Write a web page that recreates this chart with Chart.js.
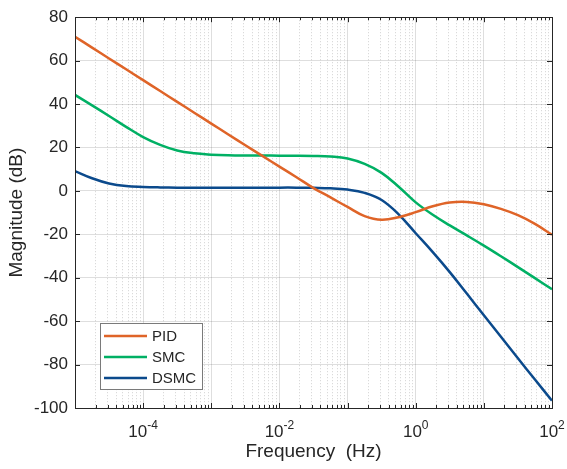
<!DOCTYPE html>
<html>
<head>
<meta charset="utf-8">
<script src="https://cdn.jsdelivr.net/npm/chart.js@4.4.0/dist/chart.umd.min.js"></script>
<style>
  html, body { margin: 0; padding: 0; background: #fff; }
  #wrap { width: 567px; height: 469px; }
</style>
</head>
<body>
<div id="wrap"><canvas id="bode" width="567" height="469"></canvas></div>
<script>
// frequency points (Hz), quarter-decade spacing
const freqHz = [1e-5, 1.78e-5, 3.16e-5, 5.62e-5, 1e-4, 1.78e-4, 3.16e-4, 5.62e-4,
  1e-3, 1.78e-3, 3.16e-3, 5.62e-3, 1e-2, 1.78e-2, 3.16e-2, 5.62e-2,
  0.1, 0.178, 0.316, 0.562, 1, 1.78, 3.16, 5.62, 10, 17.8, 31.6, 56.2, 100];

// magnitude (dB)
const pidDb = [71, 66, 61, 56, 51, 46, 41, 36, 31, 26, 21, 16.1, 11.2, 6.3, 1.3, -3.0,
  -7.4, -11.6, -13.3, -12.1, -9.8, -7.1, -5.4, -5.1, -6.2, -8.3, -11.2, -15.2, -20.2];
const smcDb = [44.2, 39.4, 34.5, 29.5, 24.8, 21.2, 18.6, 17.3, 16.7, 16.4, 16.3, 16.3, 16.2, 16.2, 16.1, 15.8,
  14.9, 12.4, 8.3, 1.9, -5.3, -11.0, -15.9, -20.5, -25.2, -30.1, -35.1, -40.2, -45.3];
const dsmcDb = [9.1, 5.8, 3.4, 2.2, 1.8, 1.6, 1.5, 1.5, 1.5, 1.5, 1.5, 1.5, 1.5, 1.5, 1.4, 1.2,
  0.6, -0.9, -4.2, -10.8, -19.5, -28.2, -37.4, -47.3, -57.3, -67.2, -77.1, -86.9, -96.6];

const seriesNames = ['PID', 'SMC', 'DSMC'];
const seriesColors = ['#DF6428', '#00B064', '#0B4A8C'];

const yMin = -100, yMax = 80, yStep = 20;
const xMin = 1e-5, xMax = 100;
const xDecades = [-5, -4, -3, -2, -1, 0, 1, 2];
const xLabelExps = [-4, -2, 0, 2];

const FONT = "'Liberation Sans', Arial, Helvetica, sans-serif";
const AXIS_COLOR = '#262626';

Chart.defaults.font.family = FONT;

// all grid values 1..9 x 10^n for the log axis
const xGridValues = [];
xDecades.forEach(e => {
  for (let m = 1; m <= 9; m++) {
    if (e === 2 && m > 1) break;
    xGridValues.push(+(m * Math.pow(10, e)).toPrecision(3));
  }
});
const isDecade = v => Math.abs(Math.log10(v) - Math.round(Math.log10(v))) < 1e-6;

// box, inward tick marks, x labels with exponents, legend
const matlabAxes = {
  id: 'matlabAxes',
  afterDraw(chart) {
    const { ctx, chartArea: a, scales } = chart;
    const xs = scales.x, ys = scales.y;
    ctx.save();
    ctx.strokeStyle = AXIS_COLOR;
    ctx.lineWidth = 1;

    ctx.beginPath();
    ys.ticks.forEach(t => {
      const py = Math.round(ys.getPixelForValue(t.value)) + 0.5;
      ctx.moveTo(a.left, py); ctx.lineTo(a.left + 5, py);
      ctx.moveTo(a.right, py); ctx.lineTo(a.right - 5, py);
    });
    xs.ticks.forEach(t => {
      const px = Math.round(xs.getPixelForValue(t.value)) + 0.5;
      const len = isDecade(t.value) ? 5 : 3;
      ctx.moveTo(px, a.bottom); ctx.lineTo(px, a.bottom - len);
      ctx.moveTo(px, a.top); ctx.lineTo(px, a.top + len);
    });
    ctx.stroke();

    ctx.strokeRect(Math.round(a.left) + 0.5, Math.round(a.top) + 0.5,
      Math.round(a.right - a.left), Math.round(a.bottom - a.top));

    // x tick labels 10^n
    ctx.fillStyle = AXIS_COLOR;
    ctx.textBaseline = 'alphabetic';
    ctx.textAlign = 'left';
    xLabelExps.forEach(e => {
      const px = xs.getPixelForValue(Math.pow(10, e));
      ctx.font = '17px ' + FONT;
      const wb = ctx.measureText('10').width;
      ctx.font = '12px ' + FONT;
      const exp = String(e);
      const we = ctx.measureText(exp).width;
      const x0 = px - (wb + we) / 2;
      ctx.font = '17px ' + FONT;
      ctx.fillText('10', x0, 437);
      ctx.font = '12px ' + FONT;
      ctx.fillText(exp, x0 + wb, 429);
    });

    // legend
    const lx = 100.5, ly = 323.5, lw = 102, lh = 66;
    ctx.fillStyle = '#ffffff';
    ctx.fillRect(lx, ly, lw, lh);
    ctx.strokeStyle = '#7a7a7a';
    ctx.strokeRect(lx, ly, lw, lh);
    chart.data.datasets.forEach((ds, i) => {
      const cy = 336 + i * 21;
      ctx.strokeStyle = ds.borderColor;
      ctx.lineWidth = 2.5;
      ctx.beginPath();
      ctx.moveTo(104, cy); ctx.lineTo(147, cy);
      ctx.stroke();
      ctx.fillStyle = AXIS_COLOR;
      ctx.font = '15px ' + FONT;
      ctx.textBaseline = 'middle';
      ctx.fillText(ds.label, 152, cy + 1);
    });
    ctx.restore();
  }
};

const toPoints = ys => freqHz.map((f, i) => ({ x: f, y: ys[i] }));

new Chart(document.getElementById('bode'), {
  type: 'line',
  data: {
    datasets: [pidDb, smcDb, dsmcDb].map((vals, i) => ({
      label: seriesNames[i],
      data: toPoints(vals),
      borderColor: seriesColors[i],
      backgroundColor: seriesColors[i],
      borderWidth: 2.5,
      pointRadius: 0,
      fill: false,
      tension: 0.4
    }))
  },
  options: {
    responsive: false,
    animation: false,
    devicePixelRatio: 1,
    layout: { padding: { left: 0, top: 14, right: 15, bottom: 0 } },
    plugins: { legend: { display: false }, tooltip: { enabled: false } },
    scales: {
      x: {
        type: 'logarithmic',
        min: xMin,
        max: xMax,
        afterBuildTicks: s => { s.ticks = xGridValues.map(v => ({ value: v, major: isDecade(v) })); },
        afterFit: s => { s.height = 61; },
        ticks: { display: false, autoSkip: false },
        grid: {
          drawTicks: false,
          lineWidth: 1,
          color: c => (c.tick && isDecade(c.tick.value)) ? 'rgba(0,0,0,0.13)' : 'rgba(0,0,0,0.18)'
        },
        border: {
          display: false,
          dash: c => (c.tick && !isDecade(c.tick.value)) ? [1, 2] : []
        },
        title: {
          display: true,
          text: 'Frequency  (Hz)',
          color: AXIS_COLOR,
          font: { size: 19, family: FONT },
          padding: { top: 0, bottom: 6 }
        }
      },
      y: {
        min: yMin,
        max: yMax,
        afterFit: s => { s.width = 75; },
        ticks: {
          stepSize: yStep,
          color: AXIS_COLOR,
          font: { size: 17, family: FONT },
          padding: 7
        },
        grid: { drawTicks: false, lineWidth: 1, color: 'rgba(0,0,0,0.13)' },
        border: { display: false },
        title: {
          display: true,
          text: 'Magnitude (dB)',
          color: AXIS_COLOR,
          font: { size: 19, family: FONT },
          padding: { top: 5, bottom: 0 }
        }
      }
    }
  },
  plugins: [matlabAxes]
});
</script>
</body>
</html>
